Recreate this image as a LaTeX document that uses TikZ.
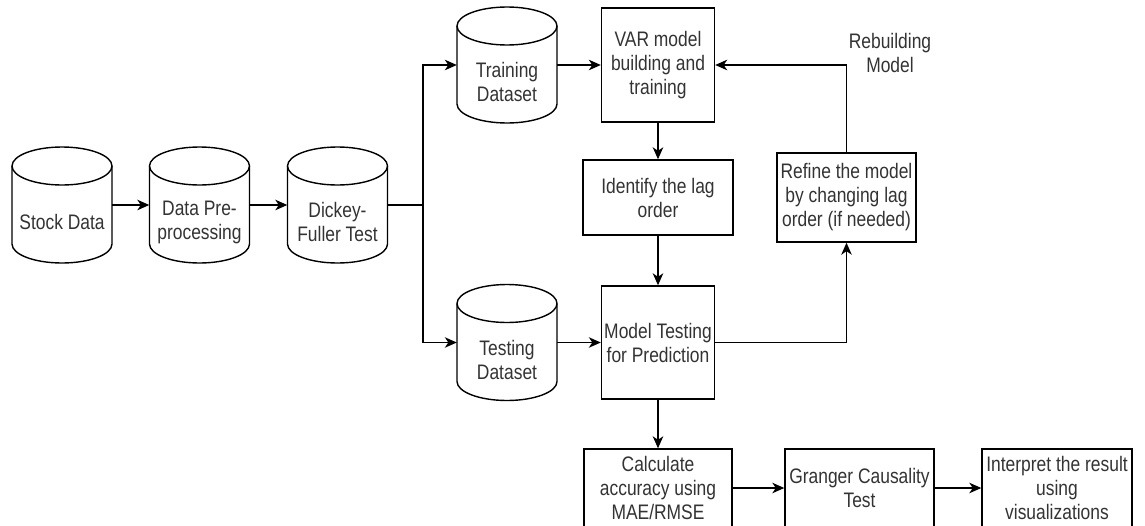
\documentclass[tikz,border=0pt]{standalone}
\usepackage{fontspec}
\setmainfont{Liberation Sans}[FakeStretch=0.83]
\usetikzlibrary{arrows.meta,calc}
\definecolor{txtc}{RGB}{51,51,51}
\newcommand\dbcyl[4]{%
  \node[cylbox] (#1) at (#2,#3) {};
  \node[txt] (#1-t) at (#2,{#3+17}) {#4};
  \draw[lin] ({#2-50},{#3-39}) -- ({#2-50},{#3+39})
    .. controls ({#2-50},{#3+49.5}) and ({#2-27.6},{#3+58}) .. ({#2},{#3+58})
    .. controls ({#2+27.6},{#3+58}) and ({#2+50},{#3+49.5}) .. ({#2+50},{#3+39})
    -- ({#2+50},{#3-39});
  \draw[lin] (#2,{#3-39}) ellipse [x radius=50pt, y radius=19pt];
}
\begin{document}
\begin{tikzpicture}[x=1pt,y=-1pt,
  lin/.style={line width=1.4pt, draw=black},
  arr/.style={lin, -{Stealth[length=12pt,width=10.5pt,inset=3.5pt]}},
  txt/.style={align=center, text=txtc, font=\fontsize{21}{24}\selectfont, inner sep=0pt},
  box/.style={txt, rectangle, lin},
  cylbox/.style={rectangle, minimum width=100pt, minimum height=116pt, inner sep=0pt}]
\useasboundingbox (0,0) rectangle (1145,525);
\clip (0,0) rectangle (1145,525);

% cylinders
\dbcyl{stock}{62}{205}{Stock Data}
\dbcyl{prep}{199.5}{205}{Data Pre-\\processing}
\dbcyl{dickey}{337.5}{205}{Dickey-\\Fuller Test}
\dbcyl{train}{507}{65}{Training\\Dataset}
\dbcyl{test}{507}{342.5}{Testing\\Dataset}

% boxes
\node[box, minimum width=113pt, minimum height=114pt] (var) at (658,65) {VAR model\\building and\\training};
\node[box, minimum width=150pt, minimum height=75pt] (ident) at (658,197.5) {Identify the lag\\order};
\node[box, minimum width=113pt, minimum height=113pt] (model) at (658,342.5) {Model Testing\\for Prediction};
\node[box, minimum width=139pt, minimum height=89pt] (refine) at (846.5,197.5) {Refine the model\\by changing lag\\order (if needed)};
\node[box, minimum width=148pt, minimum height=78pt] (calc) at (658,488) {Calculate\\accuracy using\\MAE/RMSE};
\node[box, minimum width=149pt, minimum height=78pt] (granger) at (859.5,488) {Granger Causality\\Test};
\node[box, minimum width=150pt, minimum height=78pt] (interp) at (1057,488) {Interpret the result\\using\\visualizations};
\node[txt] (rebuild) at (890,52.5) {Rebuilding\\Model};

% connectors
\coordinate (split) at (423,205);
\draw[arr] (stock) -- (prep);
\draw[arr] (prep) -- (dickey);
\draw[lin] (dickey.east) -- (split);
\draw[arr] (split) |- (train.west);
\draw[arr] (split) |- (test.west);
\draw[arr] (train) -- (var);
\draw[arr] (test) -- (model);
\draw[arr] (var) -- (ident);
\draw[arr] (ident) -- (model);
\draw[arr] (model) -- (calc);
\draw[arr] (model.east) -| (refine.south);
\draw[arr] (refine.north) |- (var.east);
\draw[arr] (calc) -- (granger);
\draw[arr] (granger) -- (interp);
\end{tikzpicture}
\end{document}
